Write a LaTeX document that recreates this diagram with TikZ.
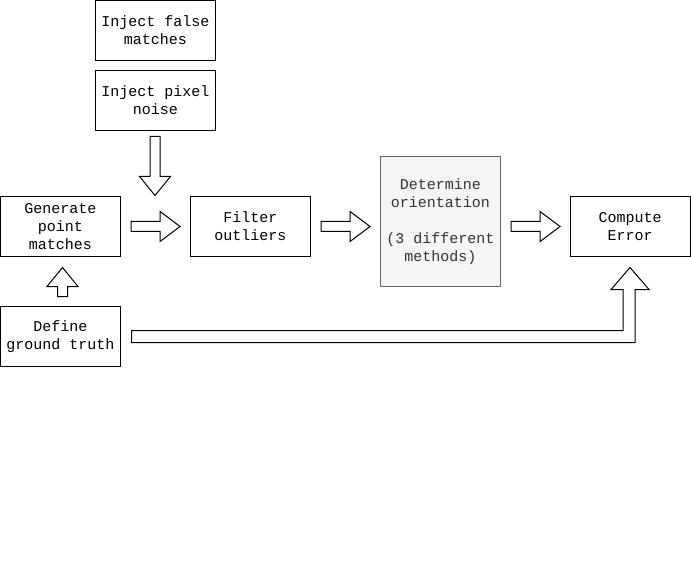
\documentclass[tikz,border=0pt]{standalone}
\usepackage{fontspec}
\setmainfont{Liberation Mono}
\usetikzlibrary{calc}
\begin{document}
\begin{tikzpicture}[x=1pt,y=-1pt,line width=1pt,
  box/.style={draw=black,fill=white,minimum width=120pt,minimum height=60pt,inner sep=0pt,outer sep=0pt,align=center,
    font=\fontsize{15}{18}\selectfont},
  greybox/.style={box,draw=black!60,fill=black!4,text=black!80,minimum height=130pt},
  blockarrow/.style={draw=black,fill=white,line width=1pt,line join=miter}]
\useasboundingbox (0,0) rectangle (691,564);
\node[box] (falsem) at (155.5,30.5) {Inject false\\matches};
\node[box] (noise) at (155.5,100.5) {Inject pixel\\noise};
\node[box] (gen) at (60.5,226.5) {Generate\\point\\matches};
\node[box] (filt) at (250.5,226.5) {Filter\\outliers};
\node[greybox] (orient) at (440.5,221.5) {Determine\\orientation\\[18pt](3 different\\methods)};
\node[box] (comp) at (630,226.5) {Compute\\Error};
\node[box] (gt) at (60.5,336.5) {Define\\ground truth};
% down arrow
\draw[blockarrow] ($(noise.south)+(-0.5,6)$) ++(-5,0) -- ++(10,0) -- ++(0,40) -- ++(10.5,0)
  -- ++(-15.5,19) -- ++(-15.5,-19) -- ++(10.5,0) -- cycle;
% right arrows
\foreach \a/\b in {gen/filt,filt/orient,orient/comp}{
  \draw[blockarrow] ($(\a.east |- gen.east)+(10.5,0)$) ++(0,-5) -- ++(29,0) -- ++(0,-10)
    -- ++(20,15) -- ++(-20,15) -- ++(0,-10) -- ++(-29,0) -- cycle;
}
% up arrow
\draw[blockarrow] ($(gt.north)+(2,-10)$) ++(-5,0) -- ++(0,-10) -- ++(-10.5,0) -- ++(15.5,-19)
  -- ++(15.5,19) -- ++(-10.5,0) -- ++(0,10) -- cycle;
% long L arrow
\draw[blockarrow] ($(gt.east)+(11,-6)$) -- ($(comp.south)+(-7,74)$) -- ($(comp.south)+(-7,33)$)
  -- ($(comp.south)+(-19,33)$) -- ($(comp.south)+(0,11)$) -- ($(comp.south)+(19,33)$)
  -- ($(comp.south)+(5,33)$) -- ($(comp.south)+(5,86)$) -- ($(gt.east)+(11,6)$) -- cycle;
\end{tikzpicture}
\end{document}
